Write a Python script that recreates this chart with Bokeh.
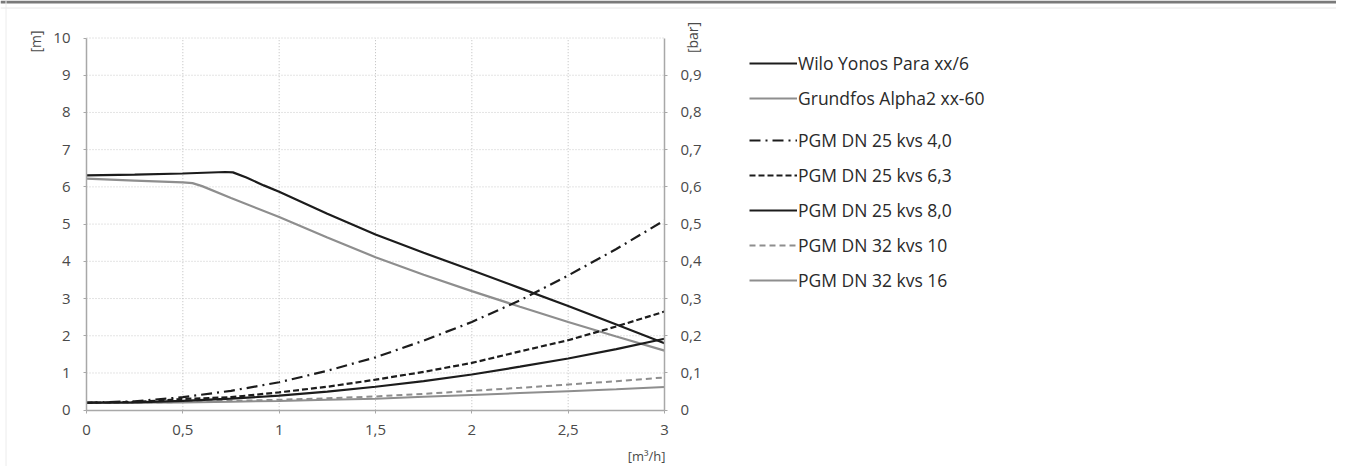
from bokeh.plotting import figure
from bokeh.models import (Range1d, LinearAxis, FixedTicker, Legend, LegendItem, Label, Span)
from bokeh.embed import file_html
from bokeh.resources import INLINE
import math

# ---------------- data ----------------
wilo_q = [0, 0.25, 0.5, 0.72, 0.76, 0.83, 0.92, 1.0, 1.25, 1.5, 1.75, 2.0, 2.25, 2.5, 2.75, 3.0]
wilo_h = [6.31, 6.33, 6.36, 6.40, 6.39, 6.25, 6.04, 5.87, 5.28, 4.72, 4.23, 3.76, 3.28, 2.80, 2.30, 1.80]

grund_q = [0, 0.25, 0.5, 0.55, 0.6, 0.75, 1.0, 1.25, 1.5, 1.75, 2.0, 2.25, 2.5, 2.75, 3.0]
grund_h = [6.22, 6.17, 6.12, 6.10, 6.02, 5.70, 5.19, 4.64, 4.11, 3.64, 3.20, 2.78, 2.37, 1.98, 1.60]

valve_q = [0, 0.25, 0.5, 0.75, 1.0, 1.25, 1.5, 1.75, 2.0, 2.25, 2.5, 2.75, 3.0]
kvs40_h = [0.20, 0.24, 0.35, 0.52, 0.75, 1.06, 1.42, 1.87, 2.37, 2.95, 3.62, 4.33, 5.10]
kvs63_h = [0.20, 0.22, 0.30, 0.35, 0.48, 0.63, 0.82, 1.03, 1.27, 1.58, 1.88, 2.25, 2.65]
kvs80_h = [0.20, 0.21, 0.25, 0.31, 0.39, 0.50, 0.63, 0.78, 0.96, 1.17, 1.39, 1.64, 1.92]
kvs10_h = [0.20, 0.20, 0.22, 0.25, 0.28, 0.32, 0.37, 0.44, 0.52, 0.60, 0.69, 0.78, 0.88]
kvs16_h = [0.20, 0.20, 0.21, 0.23, 0.25, 0.28, 0.31, 0.36, 0.41, 0.46, 0.51, 0.56, 0.62]

x_ticks = [0, 0.5, 1, 1.5, 2, 2.5, 3]
x_tick_labels = ["0", "0,5", "1", "1,5", "2", "2,5", "3"]
y_ticks = [0, 1, 2, 3, 4, 5, 6, 7, 8, 9, 10]
y_tick_labels = ["0", "1", "2", "3", "4", "5", "6", "7", "8", "9", "10"]
bar_ticks = [0, 0.1, 0.2, 0.3, 0.4, 0.5, 0.6, 0.7, 0.8, 0.9]
bar_tick_labels = ["0", "0,1", "0,2", "0,3", "0,4", "0,5", "0,6", "0,7", "0,8", "0,9"]

names_pumps = ["Wilo Yonos Para xx/6", "Grundfos Alpha2 xx-60"]
names_valves = ["PGM DN 25 kvs 4,0", "PGM DN 25 kvs 6,3", "PGM DN 25 kvs 8,0",
                "PGM DN 32 kvs 10", "PGM DN 32 kvs 16"]

# ---------------- layout geometry ----------------
W, H = 1336, 466
X0_PX, X3_PX = 86.0, 664.0          # pixel of q = 0 and q = 3
Y0_PX, Y10_PX = 409.7, 37.5         # pixel of h = 0 and h = 10
sx = (X3_PX - X0_PX) / 3.0
sy = (Y0_PX - Y10_PX) / 10.0
x_start, x_end = -X0_PX / sx, (W - X0_PX) / sx
y_start, y_end = -(H - Y0_PX) / sy, Y0_PX / sy
q_min, q_max = x_ticks[0], x_ticks[-1]
h_min, h_max = y_ticks[0], y_ticks[-1]

FONT = "Open Sans"
BLACK = "#1c1c1c"
GRAY = "#8e8e8e"
AXIS = "#a8a8a8"
TXT = "#4a4a4a"

p = figure(width=W, height=H, output_backend="svg", toolbar_location=None,
           x_range=Range1d(x_start, x_end), y_range=Range1d(y_start, y_end),
           min_border=0)
p.outline_line_color = None
p.background_fill_color = "white"
p.border_fill_color = "white"
p.grid.visible = False

p.extra_y_ranges = {"bar": Range1d(y_start / 10.0, y_end / 10.0)}

# ---------------- grid (from tick lists) ----------------
p.segment(x0=x_ticks[1:-1], y0=[h_min] * (len(x_ticks) - 2),
          x1=x_ticks[1:-1], y1=[h_max] * (len(x_ticks) - 2),
          line_color="#bdbdbd", line_width=1, line_dash="1 2", level="underlay")
p.segment(x0=[q_min] * (len(y_ticks) - 1), y0=y_ticks[1:],
          x1=[q_max] * (len(y_ticks) - 1), y1=y_ticks[1:],
          line_color="#c8c8c8", line_width=1, line_dash="1 2", level="underlay")

for ax in (p.xaxis[0], p.yaxis[0]):
    ax.axis_line_color = AXIS
    ax.axis_line_width = 1.5
    ax.major_tick_line_color = AXIS
    ax.major_tick_out = 3
    ax.major_tick_in = 0
    ax.minor_tick_line_color = None
    ax.major_label_text_font = FONT
    ax.major_label_text_font_size = "15px"
    ax.major_label_text_color = TXT

p.xaxis[0].ticker = FixedTicker(ticks=x_ticks)
p.xaxis[0].major_label_overrides = dict(zip(x_ticks, x_tick_labels))
p.xaxis[0].major_label_standoff = 12
p.xaxis[0].fixed_location = 0
p.xaxis[0].bounds = (q_min, q_max)

p.yaxis[0].ticker = FixedTicker(ticks=y_ticks)
p.yaxis[0].major_label_overrides = dict(zip(y_ticks, y_tick_labels))
p.yaxis[0].major_label_standoff = 13
p.yaxis[0].fixed_location = 0
p.yaxis[0].bounds = (h_min, h_max)

rax = LinearAxis(y_range_name="bar", ticker=FixedTicker(ticks=bar_ticks))
rax.major_label_overrides = dict(zip(bar_ticks, bar_tick_labels))
rax.axis_line_color = AXIS
rax.axis_line_width = 1.5
rax.major_tick_line_color = AXIS
rax.major_tick_out = 3
rax.major_tick_in = 0
rax.minor_tick_line_color = None
rax.major_label_text_font = FONT
rax.major_label_text_font_size = "15px"
rax.major_label_text_color = TXT
rax.major_label_standoff = 13
rax.fixed_location = 3
rax.bounds = (0, 1)
p.add_layout(rax, "right")

# page frame lines
p.add_layout(Span(location=(Y0_PX - 1.5) / sy, dimension="width",
                  line_color="#7a7a7a", line_width=3))
p.add_layout(Span(location=(Y0_PX - 7.5) / sy, dimension="width",
                  line_color="#e6e6e6", line_width=1))
p.add_layout(Span(location=(5.5 - X0_PX) / sx, dimension="height",
                  line_color="#ececec", line_width=1))

# ---------------- lines ----------------
r_wilo = p.line(wilo_q, wilo_h, line_color=BLACK, line_width=2.2)
r_grund = p.line(grund_q, grund_h, line_color=GRAY, line_width=2.2)
r10 = p.line(valve_q, kvs10_h, line_color=GRAY, line_width=2, line_dash="6 4")
r16 = p.line(valve_q, kvs16_h, line_color=GRAY, line_width=2)
r80 = p.line(valve_q, kvs80_h, line_color=BLACK, line_width=2.2)
r63 = p.line(valve_q, kvs63_h, line_color=BLACK, line_width=2.2, line_dash="6 3")
r40 = p.line(valve_q, kvs40_h, line_color=BLACK, line_width=2.2, line_dash="11 5 2 5")

def mk_legend(items, loc):
    return Legend(items=items, location=loc, orientation="vertical",
                  padding=0, margin=0, spacing=11,
                  glyph_width=48, glyph_height=20, label_height=20,
                  label_standoff=1,
                  label_text_font=FONT, label_text_font_size="17.5px",
                  label_text_color="#2a2a2a",
                  border_line_color=None, background_fill_alpha=0)

lgA = mk_legend([LegendItem(label=names_pumps[0], renderers=[r_wilo]),
                 LegendItem(label=names_pumps[1], renderers=[r_grund])], (749, H - 110))
lgB = mk_legend([LegendItem(label=names_valves[0], renderers=[r40]),
                 LegendItem(label=names_valves[1], renderers=[r63]),
                 LegendItem(label=names_valves[2], renderers=[r80]),
                 LegendItem(label=names_valves[3], renderers=[r10]),
                 LegendItem(label=names_valves[4], renderers=[r16])], (749, H - 292))
p.add_layout(lgA, "center")
p.add_layout(lgB, "center")

# ---------------- axis unit labels ----------------
p.add_layout(Label(x=(35 - X0_PX) / sx, y=(Y0_PX - 41) / sy, text="[m]", angle=math.pi / 2,
                   text_align="center", text_baseline="middle",
                   text_font=FONT, text_font_size="14px", text_color=TXT))
p.add_layout(Label(x=(692 - X0_PX) / sx, y=(Y0_PX - 37) / sy, text="[bar]", angle=math.pi / 2,
                   text_align="center", text_baseline="middle",
                   text_font=FONT, text_font_size="14px", text_color=TXT))
p.add_layout(Label(x=(665 - X0_PX) / sx, y=(Y0_PX - 455) / sy, text="[m³/h]",
                   text_align="right", text_baseline="middle",
                   text_font=FONT, text_font_size="13px", text_color=TXT))

open("out.html", "w").write(file_html(p, INLINE))
